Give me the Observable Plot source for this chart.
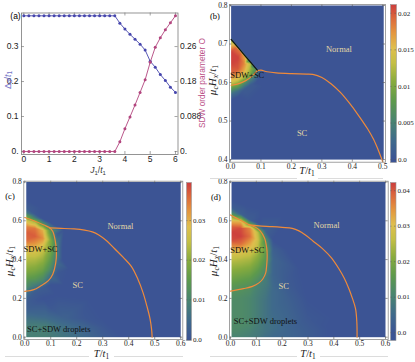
<!DOCTYPE html>
<html><head><meta charset="utf-8">
<script src="https://cdn.jsdelivr.net/npm/d3@7"></script>
<script src="https://cdn.jsdelivr.net/npm/@observablehq/plot@0.6"></script>
<style>
html,body{margin:0;padding:0;background:#fff;}
#root{position:relative;width:415px;height:362px;overflow:hidden;background:#fff;}
#root svg{position:absolute;overflow:visible;}
.t{position:absolute;white-space:nowrap;line-height:1;transform:translate(-50%,-50%);}
.t.r{transform:translate(-50%,-50%) rotate(-90deg);}
.hl{position:absolute;height:1px;background:#dcdcdc;}
sub{font-size:70%;vertical-align:-0.3em;line-height:0;}
</style></head><body><div id="root"></div>
<script>
// ---------- Panel (a) data ----------
const aJ = [0,0.2,0.4,0.6,0.8,1,1.2,1.4,1.6,1.8,2,2.2,2.4,2.6,2.8,3,3.2,3.4,3.6,3.8,4,4.2,4.4,4.6,4.8,5,5.2,5.4,5.6,5.8,6];
const aDelta = [0.388,0.388,0.388,0.388,0.388,0.388,0.388,0.388,0.388,0.388,0.388,0.388,0.388,0.388,0.388,0.388,0.388,0.388,0.388,
                0.367,0.350,0.335,0.321,0.307,0.290,0.258,0.241,0.220,0.203,0.184,0.169];
const aSDW = [0,0,0,0,0,0,0,0,0,0,0,0,0,0,0,0,0,0,0,
              0.0244,0.0574,0.0874,0.1174,0.1492,0.181,0.2252,0.2631,0.287,0.3073,0.3249,0.3426];
const aXTicks = [0,1,2,3,4,5,6];
const aLeftTicks = [0,0.1,0.2,0.3];
const aLeftLabels = ["0.","0.1","0.2","0.3"];
const aRightLabels = ["0.","0.088","0.18","0.26"];
const aSdwToLeft = 0.883;

// ---------- Panel (b) data : [T, muH, O] ----------
const bSamples = [
 [0.002,0.4,0],[0.25,0.4,0],[0.503,0.4,0],[0.002,0.8,0],[0.25,0.8,0],[0.503,0.8,0],[0.503,0.6,0],[0.3,0.62,0],[0.2,0.5,0],[0.15,0.7,0],[0.13,0.62,0],[0.11,0.59,0],[0.002,0.54,0],[0.06,0.55,0],[0.002,0.76,0],[0.06,0.74,0],
 [0.002,0.716,0],[0.02,0.699,0],[0.035,0.685,0],[0.05,0.671,0],[0.065,0.657,0],[0.08,0.643,0],[0.095,0.633,0],[0.105,0.628,0],
 [0.002,0.708,0.012],[0.02,0.691,0.019],[0.035,0.677,0.019],[0.05,0.663,0.016],[0.065,0.649,0.013],[0.08,0.635,0.008],
 [0.002,0.68,0.021],[0.002,0.65,0.021],[0.002,0.62,0.019],[0.002,0.6,0.014],[0.002,0.585,0.008],[0.002,0.57,0.003],[0.002,0.555,0],
 [0.025,0.665,0.021],[0.025,0.635,0.02],[0.025,0.61,0.015],[0.025,0.593,0.009],[0.025,0.578,0.003],[0.025,0.562,0],
 [0.045,0.65,0.018],[0.045,0.628,0.016],[0.045,0.61,0.011],[0.045,0.597,0.006],[0.045,0.582,0.001],
 [0.065,0.638,0.012],[0.065,0.622,0.01],[0.065,0.608,0.005],[0.065,0.593,0.001],
 [0.08,0.626,0.006],[0.08,0.612,0.003],[0.085,0.6,0]
];
const bFirstOrder = [[0.002,0.712],[0.03,0.686],[0.06,0.658],[0.088,0.632]];
const bLower = [[0.002,0.593],[0.03,0.598],[0.05,0.605],[0.07,0.616],[0.088,0.631]];
const bNormal = [[0.088,0.631],[0.1,0.632],[0.12,0.628],[0.15,0.625],[0.2,0.623],[0.25,0.622],[0.27,0.621],[0.3,0.613],[0.33,0.597],[0.36,0.575],[0.39,0.547],[0.42,0.515],[0.45,0.48],[0.47,0.452],[0.485,0.425],[0.5,0.394]];
const bLight = [[0.356,0.687,"Normal"],[0.235,0.469,"SC"]];
const bDark = [[0.055,0.62,"SDW+SC"]];
const bColorTicks = [0,0.005,0.01,0.015,0.02];

// ---------- Panel (c) data ----------
const cSamples = [
 [0.006,0.8,0],[0.2,0.8,0],[0.6,0.8,0],[0.6,0.4,0],[0.6,0,0],[0.45,0,0],[0.38,0,0],[0.4,0.25,0],[0.3,0.5,0],[0.2,0.62,0],[0.12,0.66,0],[0.006,0.71,0],[0.06,0.67,0],[0.11,0.61,0],[0.15,0.55,0],[0.17,0.45,0],[0.17,0.35,0],[0.15,0.27,0],[0.25,0.32,0],[0.25,0.2,0],[0.12,0.22,0],[0.3,0.1,0],[0.07,0.2,0],
 [0.006,0.665,0.002],[0.006,0.64,0.008],[0.006,0.62,0.018],[0.006,0.6,0.027],[0.006,0.57,0.034],[0.006,0.54,0.037],[0.006,0.5,0.036],[0.006,0.46,0.03],[0.006,0.42,0.025],[0.006,0.38,0.022],[0.006,0.34,0.019],[0.006,0.3,0.015],[0.006,0.26,0.011],[0.006,0.22,0.005],[0.006,0.18,0.002],[0.006,0.14,0.003],[0.006,0.1,0.006],[0.006,0.05,0.009],[0.006,0,0.009],
 [0.04,0.635,0.001],[0.04,0.615,0.008],[0.04,0.595,0.022],[0.04,0.56,0.035],[0.04,0.52,0.037],[0.04,0.48,0.032],[0.04,0.44,0.027],[0.04,0.4,0.023],[0.04,0.35,0.019],[0.04,0.3,0.014],[0.04,0.265,0.008],[0.04,0.235,0.002],
 [0.07,0.61,0],[0.07,0.585,0.012],[0.07,0.55,0.03],[0.07,0.51,0.033],[0.07,0.46,0.026],[0.07,0.4,0.021],[0.07,0.34,0.016],[0.07,0.29,0.01],[0.07,0.255,0.002],
 [0.1,0.59,0],[0.1,0.55,0.013],[0.1,0.5,0.019],[0.1,0.45,0.018],[0.1,0.4,0.015],[0.1,0.35,0.011],[0.1,0.31,0.005],[0.1,0.27,0],
 [0.125,0.53,0.002],[0.125,0.48,0.008],[0.125,0.43,0.008],[0.125,0.38,0.005],[0.125,0.33,0.001],
 [0.145,0.46,0],[0.145,0.4,0],
 [0.08,0,0.009],[0.08,0.05,0.009],[0.08,0.1,0.005],[0.15,0,0.007],[0.15,0.05,0.006],[0.15,0.1,0.003],[0.22,0,0.005],[0.22,0.05,0.004],[0.22,0.1,0.001],[0.3,0,0.002],[0.3,0.05,0.001],[0.1,0.15,0.001]
];
const cSDW = [[0.0,0.617],[0.035,0.6],[0.074,0.578],[0.095,0.565],[0.108,0.545],[0.117,0.5],[0.122,0.44],[0.119,0.38],[0.108,0.325],[0.09,0.29],[0.06,0.263],[0.035,0.245],[0.0,0.236]];
const cNormal = [[0.095,0.563],[0.14,0.561],[0.19,0.558],[0.23,0.552],[0.26,0.543],[0.285,0.527],[0.315,0.497],[0.345,0.457],[0.38,0.41],[0.41,0.365],[0.435,0.3],[0.455,0.23],[0.47,0.16],[0.482,0.095],[0.488,0.04],[0.49,0.0]];
const cLight = [[0.368,0.574,"Normal"],[0.204,0.266,"SC"]];
const cDark = [[0.061,0.451,"SDW+SC"],[0.131,0.04,"SC+SDW droplets"]];
const cColorTicks = [0,0.01,0.02,0.03];

// ---------- Panel (d) data ----------
const dSamples = [
 [0.004,0.8,0],[0.2,0.8,0],[0.6,0.8,0],[0.6,0.4,0],[0.6,0,0],[0.5,0,0],[0.45,0.15,0],[0.4,0.3,0],[0.3,0.5,0],[0.2,0.62,0],[0.12,0.66,0],[0.004,0.71,0],[0.06,0.68,0],[0.12,0.62,0],[0.19,0.55,0],[0.22,0.45,0],[0.27,0.35,0],[0.4,0.1,0],
 [0.004,0.67,0.002],[0.004,0.645,0.01],[0.004,0.62,0.022],[0.004,0.6,0.031],[0.004,0.57,0.039],[0.004,0.54,0.042],[0.004,0.5,0.041],[0.004,0.46,0.034],[0.004,0.42,0.028],[0.004,0.38,0.024],[0.004,0.34,0.021],[0.004,0.3,0.018],[0.004,0.26,0.015],[0.004,0.22,0.013],[0.004,0.18,0.012],[0.004,0.13,0.012],[0.004,0.08,0.012],[0.004,0.04,0.012],[0.004,0,0.01],
 [0.04,0.635,0.003],[0.04,0.615,0.018],[0.04,0.595,0.032],[0.04,0.56,0.041],[0.04,0.52,0.042],[0.04,0.48,0.038],[0.04,0.44,0.03],[0.04,0.4,0.025],[0.04,0.35,0.021],[0.04,0.3,0.017],[0.04,0.26,0.014],[0.04,0.2,0.012],[0.04,0.13,0.012],[0.04,0.06,0.012],[0.04,0,0.01],
 [0.075,0.605,0.002],[0.075,0.585,0.016],[0.075,0.56,0.036],[0.075,0.52,0.038],[0.075,0.48,0.033],[0.075,0.44,0.028],[0.075,0.4,0.024],[0.075,0.35,0.02],[0.075,0.3,0.016],[0.075,0.26,0.013],[0.075,0.2,0.011],[0.075,0.13,0.011],[0.075,0.06,0.011],[0.075,0,0.009],
 [0.105,0.59,0],[0.105,0.565,0.012],[0.105,0.54,0.026],[0.105,0.5,0.028],[0.105,0.46,0.026],[0.105,0.42,0.022],[0.105,0.38,0.019],[0.105,0.34,0.016],[0.105,0.3,0.013],[0.105,0.26,0.01],[0.105,0.2,0.009],[0.105,0.13,0.009],[0.105,0.06,0.009],[0.105,0,0.008],
 [0.135,0.55,0.003],[0.135,0.5,0.013],[0.135,0.45,0.017],[0.135,0.4,0.015],[0.135,0.35,0.012],[0.135,0.3,0.009],[0.135,0.25,0.008],[0.135,0.18,0.007],[0.135,0.1,0.007],[0.135,0.03,0.007],[0.135,0,0.006],
 [0.165,0.5,0],[0.165,0.45,0.003],[0.165,0.4,0.004],[0.165,0.33,0.004],[0.165,0.25,0.005],[0.165,0.15,0.005],[0.165,0.05,0.006],[0.165,0,0.005],
 [0.22,0.3,0.0015],[0.22,0.2,0.003],[0.22,0.1,0.004],[0.22,0.03,0.004],[0.22,0,0.004],
 [0.3,0.2,0],[0.3,0.1,0.001],[0.3,0.03,0.002],[0.3,0,0.002],
 [0.38,0.05,0],[0.38,0,0]
];
const dSDW = [[0.0,0.63],[0.035,0.605],[0.071,0.58],[0.095,0.568],[0.115,0.548],[0.132,0.51],[0.14,0.46],[0.142,0.42],[0.14,0.37],[0.136,0.33],[0.125,0.3],[0.11,0.28],[0.085,0.262],[0.05,0.25],[0.0,0.237]];
const dNormal = [[0.071,0.579],[0.11,0.574],[0.161,0.57],[0.2,0.566],[0.239,0.561],[0.265,0.548],[0.29,0.527],[0.32,0.495],[0.355,0.458],[0.39,0.41],[0.419,0.354],[0.44,0.305],[0.458,0.251],[0.472,0.2],[0.484,0.147],[0.489,0.08],[0.49,0.0]];
const dLight = [[0.372,0.575,"Normal"],[0.206,0.263,"SC"]];
const dDark = [[0.065,0.449,"SDW+SC"],[0.135,0.081,"SC+SDW droplets"]];
const dColorTicks = [0,0.01,0.02,0.03,0.04];

const tTicks6 = [0,0.1,0.2,0.3,0.4,0.5,0.6];
const tTicks5 = [0,0.1,0.2,0.3,0.4,0.5];
const hTicksB = [0.4,0.5,0.6,0.7,0.8];
const hTicksCD = [0,0.2,0.4,0.6,0.8];

// colour ramp (Mathematica "DarkRainbow"-like)
const rampT = [0,0.12,0.25,0.38,0.5,0.62,0.72,0.82,0.91,1];
const rampColors = ["#3c5494","#3f6a8c","#4a8570","#5e9a4c","#87ab3e","#c3bf45","#dfbf4e","#e3953f","#dc6a3c","#cc3d3d"];

// ---------- helpers ----------
const root = document.getElementById("root");
function put(svg, left, top){ svg.style.left = left+"px"; svg.style.top = top+"px"; root.appendChild(svg); }
function label(html, x, y, css, rot){
  const d = document.createElement("div");
  d.className = "t" + (rot ? " r" : "");
  d.innerHTML = html; d.style.left = x+"px"; d.style.top = y+"px";
  Object.assign(d.style, css || {}); root.appendChild(d);
}
function hline(x1, x2, y){
  const d = document.createElement("div"); d.className = "hl";
  d.style.left = x1+"px"; d.style.width = (x2-x1)+"px"; d.style.top = y+"px"; root.appendChild(d);
}
function frameTicks(xt, yt, xd, yd, w, h, len, col){
  const lx = len*(xd[1]-xd[0])/w, ly = len*(yd[1]-yd[0])/h;
  const o = {stroke: col, strokeWidth: 0.6};
  return [
    Plot.ruleX(xt, {x: d=>d, y1: yd[0], y2: yd[0]+ly, ...o}),
    Plot.ruleX(xt, {x: d=>d, y1: yd[1], y2: yd[1]-ly, ...o}),
    Plot.ruleY(yt, {y: d=>d, x1: xd[0], x2: xd[0]+lx, ...o}),
    Plot.ruleY(yt, {y: d=>d, x1: xd[1], x2: xd[1]-lx, ...o})
  ];
}
const serif = "'Liberation Serif','Times New Roman',serif";
const sans = "'Liberation Sans',Arial,sans-serif";
const orange = "#ef8a3a";
const pale = "#e2d8a6";
function cscale(max){ return {type:"linear", domain: rampT.map(t=>t*max), range: rampColors, clamp: true}; }
const f1 = d3.format(".1f");

function heat(o){
  return Plot.plot({
    width:o.w, height:o.h, marginLeft:o.mL, marginRight:o.mR, marginTop:o.mT, marginBottom:o.mB,
    x:{domain:o.xd}, y:{domain:o.yd}, color: cscale(o.cmax),
    style:{fontFamily:serif, fontSize:"7.5px", overflow:"visible", background:"transparent", color:"#222"},
    marks:[
      Plot.raster(o.samples, {x:d=>d[0], y:d=>d[1], fill:d=>d[2], interpolate:"barycentric", x1:o.r[0], x2:o.r[1], y1:o.r[2], y2:o.r[3]}),
      ...o.lines.map(L => Plot.line(L.data, {x:d=>d[0], y:d=>d[1], stroke:L.color, strokeWidth:1.2, curve:"catmull-rom"})),
      Plot.text(o.light, {x:d=>d[0], y:d=>d[1], text:d=>d[2], fill:pale, fontSize:8.5}),
      Plot.text(o.dark, {x:d=>d[0], y:d=>d[1], text:d=>d[2], fill:"#111", fontSize:8.5}),
      ...frameTicks(o.xt, o.yt, o.xd, o.yd, o.w-o.mL-o.mR, o.h-o.mT-o.mB, 2.5, "#555"),
      Plot.frame({stroke:"#8a8a8a", strokeWidth:0.8}),
      Plot.axisX({ticks:o.xt, tickSize:0, tickPadding:1.5, tickFormat:f1, label:null}),
      Plot.axisY({ticks:o.yt, tickSize:0, tickPadding:2, tickFormat:f1, label:null})
    ]
  });
}
function colorbar(o){
  const cw = o.w-o.mL-o.mR;
  return Plot.plot({
    width:o.w, height:o.h, marginLeft:o.mL, marginRight:o.mR, marginTop:o.mT, marginBottom:o.mB,
    x:{domain:[0,1], axis:null}, y:{domain:[o.lo,o.hi]}, color: cscale(o.cmax),
    style:{fontFamily:serif, fontSize:"7px", overflow:"visible", background:"transparent", color:"#222"},
    marks:[
      Plot.raster({fill:(x,y)=>y, x1:0, x2:1, y1:o.lo, y2:o.hi}),
      Plot.ruleY(o.ticks, {y:d=>d, x1:0, x2:1.5/cw, stroke:"#555", strokeWidth:0.5}),
      Plot.ruleY(o.ticks, {y:d=>d, x1:1-1.5/cw, x2:1, stroke:"#555", strokeWidth:0.5}),
      Plot.frame({stroke:"#999", strokeWidth:0.6}),
      Plot.axisY({anchor:"right", ticks:o.ticks, tickSize:0, tickPadding:1.5, tickFormat:d=>d===0?"0.0":String(d), label:null})
    ]
  });
}

// ---------- Panel (a) ----------
const blue = "#4646ad", pink = "#b2457e";
const aX = [-0.091, 6.10], aY = [-0.0086, 0.396];
const aPlot = Plot.plot({
  width:210, height:175, marginLeft:21, marginRight:32.5, marginTop:12.5, marginBottom:21,
  x:{domain:aX}, y:{domain:aY},
  style:{fontFamily:sans, fontSize:"8.5px", overflow:"visible", background:"transparent", color:"#222"},
  marks:[
    ...frameTicks(aXTicks, aLeftTicks, aX, aY, 156.5, 141.5, 3, "#666"),
    Plot.frame({stroke:"#7a7a7a", strokeWidth:0.8}),
    Plot.axisX({ticks:aXTicks, tickSize:0, tickPadding:1.5, tickFormat:d=>String(d), label:null}),
    Plot.axisY({ticks:aLeftTicks, tickSize:0, tickPadding:3, tickFormat:d=>aLeftLabels[aLeftTicks.indexOf(d)], label:null}),
    Plot.axisY({anchor:"right", ticks:aLeftTicks, tickSize:0, tickPadding:2, tickFormat:d=>aRightLabels[aLeftTicks.indexOf(d)], label:null}),
    Plot.line(aJ, {x:d=>d, y:(d,i)=>aDelta[i], stroke:blue, strokeWidth:0.9}),
    Plot.dot(aJ, {x:d=>d, y:(d,i)=>aDelta[i], r:1.5, fill:blue}),
    Plot.line(aJ, {x:d=>d, y:(d,i)=>aSDW[i]/aSdwToLeft, stroke:pink, strokeWidth:0.9}),
    Plot.dot(aJ, {x:d=>d, y:(d,i)=>aSDW[i]/aSdwToLeft, r:1.5, fill:pink})
  ]
});
put(aPlot, 0, 0);

// ---------- Panel (b) ----------
put(heat({w:210, h:178, mL:24, mR:30, mT:4, mB:16.3, xd:[-0.0033,0.5089], yd:[0.3932,0.8026], cmax:0.0212,
  samples:bSamples, r:[0.002,0.503,0.4,0.8],
  lines:[{data:bLower,color:orange},{data:bNormal,color:orange},{data:bFirstOrder,color:"#111"}],
  light:bLight, dark:bDark, xt:tTicks5, yt:hTicksB}), 205, 0);

// ---------- Panel (c) ----------
put(heat({w:205, h:184, mL:23.3, mR:22.7, mT:2.7, mB:23, xd:[-0.0035,0.608], yd:[-0.0119,0.8041], cmax:0.0396,
  samples:cSamples, r:[0.006,0.6,0,0.8],
  lines:[{data:cSDW,color:orange},{data:cNormal,color:orange}],
  light:cLight, dark:cDark, xt:tTicks6, yt:hTicksCD}), 0, 178);

// ---------- Panel (d) ----------
put(heat({w:210, h:184, mL:24, mR:27.3, mT:2.7, mB:23, xd:[-0.0039,0.6105], yd:[-0.0119,0.8041], cmax:0.0423,
  samples:dSamples, r:[0.004,0.6,0,0.8],
  lines:[{data:dSDW,color:orange},{data:dNormal,color:orange}],
  light:dLight, dark:dDark, xt:tTicks6, yt:hTicksCD}), 205, 178);

// ---------- colour bars ----------
put(colorbar({w:30, h:170, mL:5, mR:19, mT:4, mB:8, lo:-0.0004, hi:0.0212, cmax:0.0212, ticks:bColorTicks}), 385, 0);
put(colorbar({w:29, h:166, mL:5, mR:19, mT:4, mB:4, lo:-0.00025, hi:0.0396, cmax:0.0396, ticks:cColorTicks}), 181, 178);
put(colorbar({w:30, h:166, mL:5, mR:19.5, mT:4, mB:4, lo:-0.0022, hi:0.0423, cmax:0.0423, ticks:dColorTicks}), 385, 178);

// ---------- text ----------
const ser = {fontFamily: serif}, sa = {fontFamily: sans};
label("(a)", 15.5, 15.7, {...sa, fontSize:"8.5px"});
label("<i>J</i><sub>1</sub>/<i>t</i><sub>1</sub>", 98, 169.5, {...sa, fontSize:"8.5px", color:"#333"});
label("Δ<sub><i>d</i></sub>/<i>t</i><sub>1</sub>", 7.5, 80, {...sa, fontSize:"9px", color:"#7272c6"}, true);
label("SDW order parameter O", 202, 83, {...sa, fontSize:"8.3px", color:"#bb5088"}, true);

label("(b)", 215, 15.7, {...ser, fontSize:"8.5px"});
label("(c)", 10, 196, {...ser, fontSize:"8.5px"});
label("(d)", 216, 196.5, {...ser, fontSize:"8.5px"});

const tLab = "<i>T</i>/<i>t</i><sub>1</sub>";
const hLab = "<i>μ</i><sub><i>c</i></sub><i>H</i><sub><i>x</i></sub>/<i>t</i><sub>1</sub>";
label(tLab, 307, 171, {...ser, fontSize:"10.5px", color:"#222"});
label(hLab, 212, 80, {...ser, fontSize:"11px", color:"#222"}, true);
label(tLab, 101.5, 353.5, {...ser, fontSize:"10.5px", color:"#222"});
label(hLab, 9, 261, {...ser, fontSize:"11px", color:"#222"}, true);
label(tLab, 308, 353.5, {...ser, fontSize:"10.5px", color:"#222"});
label(hLab, 212.5, 261, {...ser, fontSize:"11px", color:"#222"}, true);

hline(210, 297, 178); hline(318, 383, 178);
hline(5, 89, 355.5); hline(114, 183, 355.5);
hline(210, 297, 356); hline(320, 388, 356);
</script></body></html>
